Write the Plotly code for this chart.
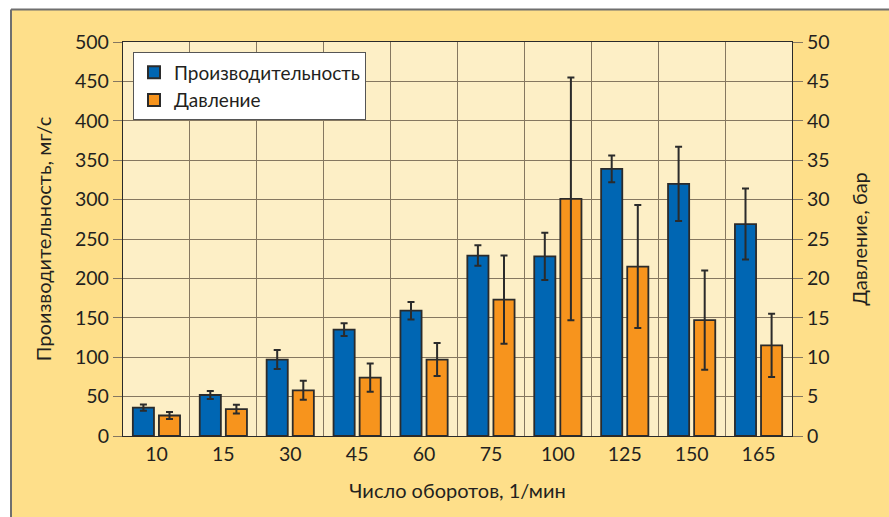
import plotly.graph_objects as go

# Rotation speed categories and measured values
speeds = ["10", "15", "30", "45", "60", "75", "100", "125", "150", "165"]
productivity = [36, 52, 97, 135, 159, 229, 228, 339, 320, 269]        # mg/s
productivity_err = [4, 5, 12, 8, 11, 13, 30, 17, 47, 45]
pressure = [2.6, 3.4, 5.8, 7.4, 9.7, 17.3, 30.1, 21.5, 14.7, 11.5]     # bar
pressure_err = [0.45, 0.55, 1.2, 1.8, 2.1, 5.6, 15.4, 7.8, 6.3, 4.0]

BLUE = "#0066B3"
ORANGE = "#F7941D"
EDGE = "#2b2b2b"
INK = "#231f20"
OUTER = "#FEDF8A"
INNER = "#FDEFC6"
GRID_DARK = "#2a2a2a"
GRID_LIGHT = "#857760"
FONT = "Lato"
TICK_SIZE = 19.5
TITLE_SIZE = 20

fig = go.Figure()

fig.add_trace(go.Bar(
    x=speeds, y=productivity, name="Производительность",
    marker=dict(color=BLUE, line=dict(color=EDGE, width=1.8)),
    error_y=dict(type="data", array=productivity_err, color=EDGE, thickness=2, width=3.5),
    offsetgroup="a", yaxis="y",
))
fig.add_trace(go.Bar(
    x=speeds, y=pressure, name="Давление",
    marker=dict(color=ORANGE, line=dict(color=EDGE, width=1.8)),
    error_y=dict(type="data", array=pressure_err, color=EDGE, thickness=2, width=3.5),
    offsetgroup="b", yaxis="y2",
))

L, R, T, B = 123, 97, 41.5, 81
W, H = 889, 517
pw, ph = W - L - R, H - T - B

fig.update_layout(
    width=W, height=H,
    margin=dict(l=L, r=R, t=T, b=B),
    paper_bgcolor=OUTER,
    plot_bgcolor=INNER,
    barmode="group",
    bargap=0.22,
    bargroupgap=0.19,
    font=dict(family=FONT, size=TICK_SIZE, color=INK),
    showlegend=True,
    legend=dict(
        x=(133 - L) / pw, y=(H - B - 52) / ph, xanchor="left", yanchor="top",
        bgcolor="white", bordercolor="#555555", borderwidth=1,
        font=dict(family=FONT, size=19, color=INK),
        itemwidth=30, itemsizing="constant", tracegroupgap=0,
    ),
    xaxis=dict(
        type="category", tickson="boundaries", ticks="",
        showgrid=True, gridcolor=GRID_LIGHT, gridwidth=1.3,
        showline=True, linecolor=GRID_DARK, linewidth=1.3, mirror=True,
        tickfont=dict(family=FONT, size=TICK_SIZE, color=INK),
        title=dict(text="Число оборотов, 1/мин", standoff=20,
                   font=dict(family=FONT, size=TITLE_SIZE, color=INK)),
        zeroline=False,
    ),
    xaxis2=dict(
        overlaying="x", anchor="y", range=[-0.5, 9.5], side="bottom",
        tickvals=[-0.5, 1.5, 3.5, 5.5, 7.5, 9.5], ticks="outside", ticklen=10,
        tickcolor=GRID_LIGHT, tickwidth=1.3,
        showticklabels=False, showgrid=False, zeroline=False, showline=False,
    ),
    yaxis=dict(
        range=[0, 500], dtick=50, ticks="outside", ticklen=9,
        tickcolor=GRID_LIGHT, tickwidth=1.3,
        showgrid=True, gridcolor=GRID_LIGHT, gridwidth=1.3,
        showline=True, linecolor=GRID_DARK, linewidth=1.3,
        zeroline=False,
        tickfont=dict(family=FONT, size=TICK_SIZE, color=INK),
        title=dict(text="Производительность, мг/с", standoff=18,
                   font=dict(family=FONT, size=TITLE_SIZE, color=INK)),
    ),
    yaxis2=dict(
        overlaying="y", side="right", anchor="x", range=[0, 50], dtick=5,
        ticks="outside", ticklen=10, tickcolor=GRID_LIGHT, tickwidth=1.3,
        showgrid=False, zeroline=False,
        showline=True, linecolor=GRID_DARK, linewidth=1.3,
        tickfont=dict(family=FONT, size=TICK_SIZE, color=INK),
        title=dict(text="Давление, бар", standoff=24,
                   font=dict(family=FONT, size=TITLE_SIZE, color=INK)),
    ),
    yaxis3=dict(
        overlaying="y", anchor="x", range=[0, 500], dtick=100,
        ticks="outside", ticklen=9, tickcolor=GRID_DARK, tickwidth=1.3,
        showgrid=True, gridcolor=GRID_DARK, gridwidth=1.3,
        showticklabels=False, zeroline=False, showline=False,
    ),
)

# White page strip with the grey frame edge along the top and left
fig.add_shape(type="rect", xref="paper", yref="paper",
              x0=-L / pw, x1=(W + 10 - L) / pw,
              y0=(H - B - 9) / ph, y1=(H - B + 10) / ph,
              fillcolor="white", line=dict(width=0), layer="below")
fig.add_shape(type="rect", xref="paper", yref="paper",
              x0=-(L + 10) / pw, x1=(11 - L) / pw,
              y0=-(B + 10) / ph, y1=(H - B + 10) / ph,
              fillcolor="white", line=dict(width=0), layer="below")
fig.add_shape(type="line", xref="paper", yref="paper",
              x0=(11 - L) / pw, x1=(W + 10 - L) / pw,
              y0=(H - B - 9) / ph, y1=(H - B - 9) / ph,
              line=dict(color="#6f6f6f", width=2), layer="below")
fig.add_shape(type="line", xref="paper", yref="paper",
              x0=(11 - L) / pw, x1=(11 - L) / pw,
              y0=-(B + 10) / ph, y1=(H - B - 9) / ph,
              line=dict(color="#6f6f6f", width=2), layer="below")

fig.write_html("out.html")
